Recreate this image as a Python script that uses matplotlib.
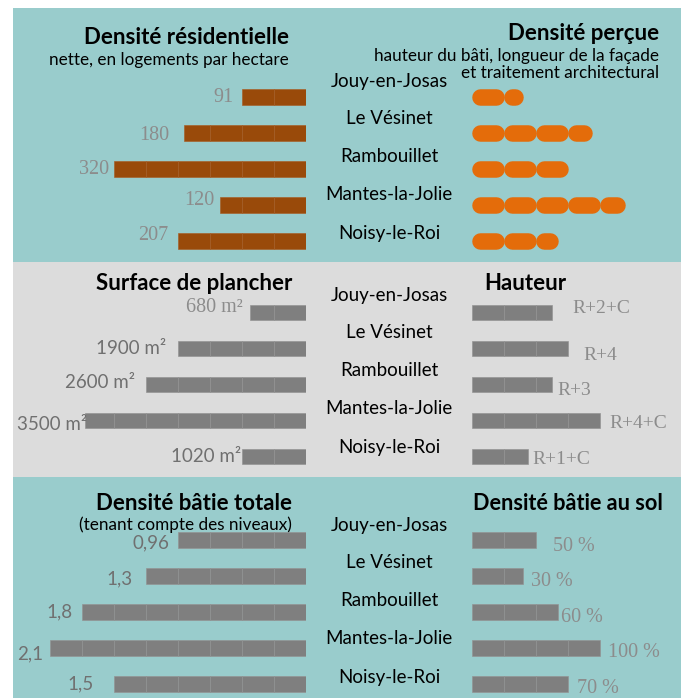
import numpy as np
import matplotlib
matplotlib.use('Agg')
import matplotlib.pyplot as plt
from matplotlib.patches import Rectangle

# Données
villes = ['Jouy-en-Josas', 'Le Vésinet', 'Rambouillet', 'Mantes-la-Jolie', 'Noisy-le-Roi']

# longueur des barres (en nombre de segments) et étiquettes affichées
densite_res = [2.0, 3.8, 6.0, 2.7, 4.0]
densite_res_labels = ['91', '180', '320', '120', '207']
densite_percue = [1.6, 3.75, 3.0, 4.8, 2.7]
surface = [1.75, 4.0, 5.0, 6.9, 2.0]
surface_labels = ['680 m²', '1900 m²', '2600 m²', '3500 m²', '1020 m²']
hauteur = [2.5, 3.0, 2.5, 4.0, 1.75]
hauteur_labels = ['R+2+C', 'R+4', 'R+3', 'R+4+C', 'R+1+C']
bati_total = [4.0, 5.0, 7.0, 8.0, 6.0]
bati_total_labels = ['0,96', '1,3', '1,8', '2,1', '1,5']
bati_sol = [2.0, 1.6, 2.7, 4.0, 3.0]
bati_sol_labels = ['50 %', '30 %', '60 %', '100 %', '70 %']

# Styles
TEAL = '#99cccc'
GRIS_FOND = '#dcdcdc'
BRUN = '#994a0a'
ORANGE = '#e46c0a'
GRIS = '#7f7f7f'
SANS = 'Lato'
SERIF = 'Liberation Serif'

W, H = 690, 698
SEG = 32      # largeur d'un segment en pixels
ROW = 36      # pas entre les barres en pixels

fig = plt.figure(figsize=(W / 100, H / 100), dpi=100)
fig.patch.set_facecolor('white')

# axe de fond en pixels
bg = fig.add_axes([0, 0, 1, 1])
bg.set_xlim(0, W)
bg.set_ylim(H, 0)
bg.axis('off')
bg.add_patch(Rectangle((13, 8), 668, 690, color=TEAL, lw=0))
bg.add_patch(Rectangle((13, 262), 668, 215, color=GRIS_FOND, lw=0))


def titre(x, y, txt, ha, size=16, bold=True):
    bg.text(x, y, txt, ha=ha, va='center', fontsize=size, family=SANS,
            fontweight='bold' if bold else 'normal', color='black')


titre(289, 38, 'Densité résidentielle', 'right')
titre(289, 60, 'nette, en logements par hectare', 'right', 12.3, False)
titre(659, 33, 'Densité perçue', 'right')
titre(659, 56, 'hauteur du bâti, longueur de la façade', 'right', 12.3, False)
titre(659, 73, 'et traitement architectural', 'right', 12.3, False)
titre(292, 283, 'Surface de plancher', 'right')
titre(484, 283, 'Hauteur', 'left')
titre(292, 503, 'Densité bâtie totale', 'right')
titre(292, 525, '(tenant compte des niveaux)', 'right', 12.3, False)
titre(473, 503, 'Densité bâtie au sol', 'left', 15.6)

# noms des communes au centre
for y0 in [81, 295, 525]:
    for i, v in enumerate(villes):
        bg.text(389, y0 + 38 * i, v, ha='center', va='center', fontsize=13.5,
                family=SANS, color='black')


def axe_barres(y0, gauche):
    # y0 : centre de la première barre (pixels depuis le haut)
    top = y0 - ROW / 2
    if gauche:
        x0, nseg = 18, 9
    else:
        x0, nseg = 472, 6.5
    ax = fig.add_axes([x0 / W, 1 - (top + 5 * ROW) / H, nseg * SEG / W, 5 * ROW / H])
    ax.set_ylim(4.5, -0.5)
    if gauche:
        ax.set_xlim(nseg, 0)
    else:
        ax.set_xlim(0, nseg)
    ax.axis('off')
    ax.patch.set_alpha(0)
    return ax


def barres_segments(ax, valeurs, couleur, bord):
    for i, v in enumerate(valeurs):
        for k in range(int(np.ceil(v))):
            ax.barh(i, min(1, v - k), left=k, height=0.44, color=couleur,
                    edgecolor=bord, linewidth=0.45)


def etiquettes(ax, valeurs, labels, dx, dy, familles, couleurs, tailles, gauche):
    for i, (v, lab) in enumerate(zip(valeurs, labels)):
        ax.annotate(lab, (v, i), xytext=((-dx[i] if gauche else dx[i]) * 0.72, -dy[i] * 0.72),
                    textcoords='offset points', ha='right' if gauche else 'left',
                    va='center', fontsize=tailles[i], family=familles[i], color=couleurs[i])


# 1. Densité résidentielle
ax1 = axe_barres(97, True)
barres_segments(ax1, densite_res, BRUN, '#a65e26')
etiquettes(ax1, densite_res, densite_res_labels, [9, 15, 5, 5, 10], [0, 2, 0, -4.5, -5],
           [SERIF] * 5, ['#8c8c8c'] * 5, [14.5] * 5, True)

# 2. Densité perçue (pastilles arrondies)
ax2 = axe_barres(97, False)
r = 0.26
for i, v in enumerate(densite_percue):
    for k in range(int(np.ceil(v))):
        fin = min(k + 1, v)
        ax2.plot([k + r, fin - r], [i, i], color=ORANGE, lw=16.5 * 0.72,
                 solid_capstyle='round')

# 3. Surface de plancher
ax3 = axe_barres(312.5, True)
barres_segments(ax3, surface, GRIS, '#939393')
etiquettes(ax3, surface, surface_labels, [7, 12, 11, -2, 1], [-5, 0, -2, 4, 0],
           [SERIF, SANS, SANS, SANS, SANS], ['#8c8c8c'] + ['#707070'] * 4,
           [14.5] + [13.5] * 4, True)

# 4. Hauteur
ax4 = axe_barres(312.5, False)
barres_segments(ax4, hauteur, GRIS, '#939393')
etiquettes(ax4, hauteur, hauteur_labels, [20, 15, 5, 9, 4], [-4.5, 7, 5.5, 3.5, 3],
           [SERIF] * 5, ['#8c8c8c'] * 5, [14] * 5, False)

# 5. Densité bâtie totale
ax5 = axe_barres(540, True)
barres_segments(ax5, bati_total, GRIS, '#939393')
etiquettes(ax5, bati_total, bati_total_labels, [9, 13, 9, 7, 20], [3, 3, 0, 5.5, 0],
           [SANS] * 5, ['#707070'] * 5, [13.5] * 5, True)

# 6. Densité bâtie au sol
ax6 = axe_barres(540, False)
barres_segments(ax6, bati_sol, GRIS, '#939393')
etiquettes(ax6, bati_sol, bati_sol_labels, [17, 8, 3, 8, 9], [6.5, 6, 5.5, 4.5, 4.5],
           [SERIF] * 5, ['#8c8c8c'] * 5, [14.5] * 5, False)

fig.savefig('out.png', dpi=100)
